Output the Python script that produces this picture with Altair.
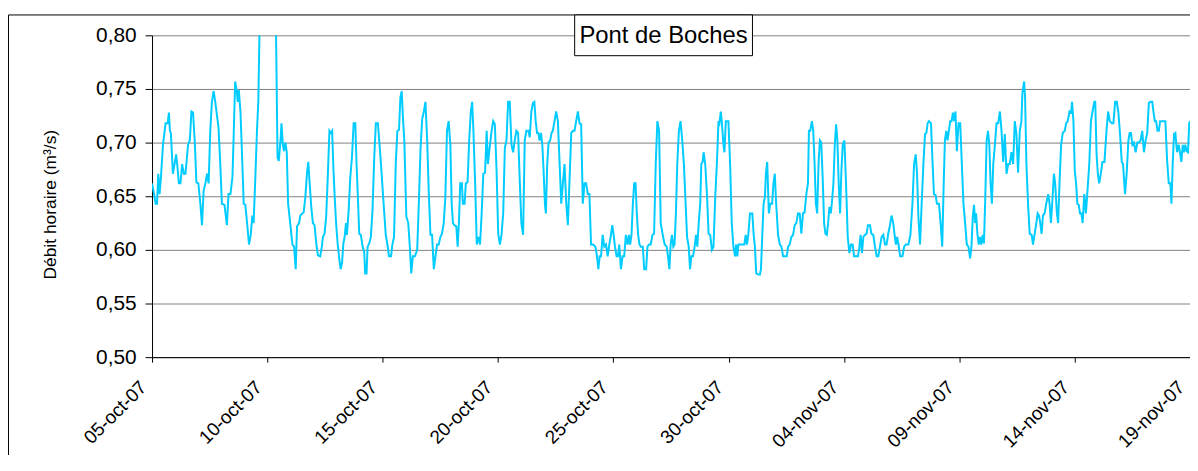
import altair as alt
import pandas as pd

# Hours since 05-oct-2007 00:00 and hourly discharge (m3/s)
hours = [
    0, 2.1, 3.8, 5.2, 6.5, 7.9, 9.3, 11.4, 14.1, 16.2, 17.6, 18.6, 19.6, 21.7, 23.8, 25.1, 26.5, 27.9, 29.6, 31.3,
    33.1, 34.8, 37.5, 39.3, 41.0, 42.7, 44.4, 46.2, 48.2, 50.3, 52.0, 53.7, 55.5, 57.2, 58.9, 60.6, 62.3, 64.1, 65.8,
    69.2, 71.0, 72.7, 75.4, 77.9, 79.6, 81.6, 83.7, 85.1, 86.5, 88.2, 89.2, 90.3, 92.0, 93.4, 95.4, 97.1, 99.2, 100.9,
    102.7, 104.4, 105.7, 107.1, 109.2, 110.6, 112.5, 128.5, 130.6, 131.9, 133.7, 134.7, 136.1, 137.4, 138.8, 140.2, 141.6,
    144.0, 146.1, 147.8, 149.5, 150.9, 153.0, 154.3, 156.4, 157.8, 159.5, 161.2, 162.6, 164.0, 165.7, 167.4, 169.1,
    170.9, 172.6, 175.0, 176.7, 177.8, 179.5, 181.2, 182.6, 184.6, 186.0, 187.4, 188.8, 190.1, 191.5, 193.2, 194.9,
    196.3, 197.7, 199.1, 200.4, 201.8, 202.8, 204.6, 206.3, 208.0, 209.8, 211.5, 212.8, 214.2, 215.6, 217.3, 219.1,
    220.8, 221.8, 223.2, 224.3, 226.0, 227.7, 229.4, 231.2, 232.9, 235.0, 237.0, 239.1, 241.2, 243.2, 244.9, 246.6,
    248.7, 250.1, 251.8, 253.6, 255.3, 257.0, 258.4, 259.8, 261.1, 262.5, 264.6, 266.6, 268.3, 269.7, 271.4, 273.5,
    275.9, 277.6, 279.4, 281.1, 282.8, 284.5, 286.3, 288.0, 289.7, 291.4, 293.2, 294.9, 296.6, 298.3, 300.0, 301.7,
    303.5, 305.2, 306.9, 308.6, 310.4, 311.8, 313.1, 314.5, 316.6, 318.0, 319.3, 320.7, 322.4, 323.4, 325.2, 326.5,
    328.3, 330.0, 331.7, 333.1, 334.4, 336.2, 337.9, 339.9, 341.3, 343.0, 344.7, 346.5, 348.2, 349.5, 350.9, 353.3,
    355.0, 356.7, 358.5, 360.2, 361.9, 363.6, 365.4, 367.1, 368.8, 370.5, 372.2, 374.0, 375.7, 377.4, 379.1, 380.9,
    382.6, 384.3, 386.1, 387.8, 389.5, 391.6, 393.0, 394.7, 396.4, 397.8, 399.2, 400.6, 401.9, 403.3, 404.7, 406.1,
    407.4, 408.8, 409.8, 411.2, 412.6, 414.3, 415.7, 417.0, 418.8, 420.5,
    422.3, 424.1, 425.8, 427.5, 429.2, 431.0, 432.7, 434.4, 436.2, 437.9, 439.6, 441.3, 443.1, 444.8, 446.5, 448.2,
    450.0, 451.7, 453.4, 455.1, 456.8, 458.9, 461.3, 463.0, 464.4, 465.8, 467.2, 468.9, 470.6, 472.4, 474.1, 475.8,
    477.5, 478.9, 480.3, 481.7, 483.4, 484.8, 486.2, 487.9, 489.6, 491.3, 493.0, 494.8, 496.2, 497.5, 498.9, 500.3,
    501.7, 503.1, 504.4, 505.8, 507.2, 508.6, 510.7, 512.1, 514.1, 515.5, 517.2, 518.9, 520.7, 522.4, 524.1, 525.8,
    527.6, 529.3, 531.4, 533.4, 535.5, 536.9, 538.3, 539.6, 541.0, 542.4, 543.7, 545.1, 546.5, 548.2, 549.9, 551.7,
    553.4,
    556.7, 558.4, 559.8, 561.2, 562.9, 564.6, 566.0, 567.4, 568.8, 570.4, 571.5, 572.9, 573.9, 575.6, 577.4, 579.1,
    580.8, 582.5, 584.2, 586.0, 587.7, 589.4, 590.4, 591.8, 592.8, 594.6, 595.6, 597.0, 599.7, 601.5, 603.2, 604.9,
    606.6, 607.7, 609.0, 610.1, 611.8, 614.2, 616.3, 617.7, 619.0, 620.4, 622.2, 624.6, 626.0, 627.3, 628.7, 630.8,
    632.5, 633.6, 634.9, 636.3, 637.7, 638.7, 640.1, 641.8, 643.2, 645.2, 646.6, 648.0, 649.4, 651.4, 653.2, 654.9,
    656.6, 658.3, 660.4, 661.8, 663.5, 665.2, 667.0, 668.7, 670.4, 672.1, 673.9, 675.6, 677.3, 679.0, 680.8, 682.5,
    683.5, 684.9, 686.6, 688.0, 689.4, 690.7, 692.1, 693.5, 694.9, 696.3,
    697.9, 699.3, 700.7, 702.1, 703.5, 704.8, 706.2, 707.3, 709.0, 710.4, 711.8, 713.1, 714.5, 715.9, 717.3, 718.7,
    720.4, 722.1, 723.9, 725.6, 727.3, 729.0, 730.4, 732.5, 734.6, 736.0, 737.3, 738.7, 740.1, 741.8, 743.5, 744.9,
    747.0, 748.5, 750.5, 752.2, 754.0, 755.7, 757.4, 759.1, 760.9, 762.6, 764.3, 766.0, 767.8, 769.5, 771.2, 772.9,
    774.0, 775.3, 776.7, 778.4, 780.8, 782.6, 784.3, 787.0, 789.1, 791.2, 792.9, 794.6, 796.0, 797.4, 799.1, 800.8,
    802.6, 804.3, 805.7, 807.0, 808.4, 810.5, 811.9, 813.6, 815.3, 816.7, 818.8, 820.5, 822.2, 823.9, 825.0, 826.4,
    827.7, 829.1, 830.5, 831.9, 833.3, 834.6, 836.0,
    837.4, 839.2, 840.9, 842.6, 844.3, 846.0, 847.8, 849.5, 851.2, 852.6, 854.0, 855.3, 856.4, 857.4, 858.8, 860.2,
    861.5, 862.9, 864.3, 865.6, 867.0, 868.4, 869.8, 871.2, 872.5, 873.9, 875.3, 877.0, 878.7, 880.4, 882.2, 883.9,
    885.6, 887.3, 889.1, 890.8, 892.5, 894.2, 896.0, 897.7, 899.4, 901.1, 902.9, 904.6, 905.6, 907.4, 908.4, 909.8,
    911.5, 913.2, 915.3, 916.6, 918.4, 920.1, 921.5, 922.9, 924.2, 925.6, 927.0, 928.7, 930.4, 932.5, 933.9, 935.3,
    936.6, 938.4, 939.7, 941.5, 942.8, 944.2, 945.9, 947.6, 949.7, 951.1, 952.8, 954.6, 956.3, 957.3, 958.7, 960.1,
    961.5, 962.8, 964.2, 965.6, 967.0,
    968.3, 970.0, 971.7, 973.1, 975.2, 976.9, 978.6, 980.4, 981.4, 982.8, 984.1, 985.5, 987.2, 988.9, 991.0, 993.1,
    994.8, 996.5, 998.6, 1000.3, 1002.1, 1003.8, 1005.5, 1007.2, 1009.0, 1010.3, 1012.4, 1014.1, 1015.9, 1017.2,
    1018.6, 1020.0, 1021.7, 1023.4, 1025.2, 1026.9, 1028.6, 1030.3, 1032.1, 1033.8, 1035.5, 1037.2, 1039.0, 1040.7,
    1042.1, 1043.4, 1044.8, 1046.2, 1047.6, 1048.9, 1051.0, 1053.1, 1054.4, 1056.2, 1057.9, 1059.6, 1060.7, 1062.0,
    1063.4, 1064.8, 1066.5, 1068.2, 1069.9, 1071.0, 1072.4, 1073.7, 1075.1, 1076.5, 1077.9, 1079.2, 1079.9,
]

flow = [
    0.662, 0.652, 0.643, 0.643, 0.671, 0.652, 0.668, 0.698, 0.718, 0.718, 0.728, 0.711, 0.709, 0.671, 0.682, 0.689, 0.677, 0.662, 0.662, 0.680,
    0.671, 0.671, 0.698, 0.702, 0.729, 0.728, 0.702, 0.663, 0.662, 0.643, 0.623, 0.655, 0.662, 0.671, 0.662, 0.711, 0.738, 0.748, 0.738,
    0.714, 0.680, 0.643, 0.642, 0.623, 0.652, 0.652, 0.668, 0.711, 0.757, 0.748, 0.738, 0.749, 0.729, 0.695, 0.643, 0.642, 0.622, 0.605,
    0.614, 0.632, 0.625, 0.658, 0.711, 0.738, 0.840, 0.840, 0.686, 0.683, 0.702, 0.718, 0.698, 0.692, 0.700, 0.691, 0.643,
    0.623, 0.605, 0.603, 0.582, 0.622, 0.625, 0.632, 0.634, 0.635, 0.649, 0.671, 0.682, 0.662, 0.640, 0.625, 0.623,
    0.606, 0.595, 0.594, 0.603, 0.612, 0.615, 0.631, 0.662, 0.711, 0.709, 0.711, 0.674, 0.649, 0.625, 0.605, 0.591,
    0.582, 0.588, 0.606, 0.612, 0.625, 0.614, 0.637, 0.668, 0.686, 0.718, 0.718, 0.680, 0.649, 0.615, 0.614, 0.603,
    0.598, 0.578, 0.578, 0.603, 0.606, 0.612, 0.637, 0.686, 0.718, 0.718, 0.695, 0.668, 0.640, 0.614, 0.605, 0.594,
    0.594, 0.605, 0.612, 0.680, 0.711, 0.712, 0.742, 0.748, 0.723, 0.702, 0.631, 0.625, 0.602, 0.578, 0.594, 0.594,
    0.600, 0.643, 0.695, 0.722, 0.729, 0.738, 0.702, 0.652, 0.614, 0.614, 0.582, 0.594, 0.605, 0.605, 0.612, 0.615,
    0.625, 0.649, 0.711, 0.720, 0.698, 0.643, 0.625, 0.623, 0.622, 0.603, 0.625, 0.662, 0.662, 0.643, 0.643, 0.662,
    0.663, 0.702, 0.729, 0.738, 0.711, 0.662, 0.605, 0.612, 0.605, 0.634, 0.671, 0.672, 0.711, 0.680, 0.692, 0.711,
    0.720, 0.717, 0.674, 0.615, 0.605, 0.614, 0.634, 0.695, 0.702, 0.738, 0.738, 0.698, 0.691, 0.702, 0.711, 0.709,
    0.665, 0.625, 0.614, 0.702, 0.711, 0.711, 0.705, 0.729, 0.737, 0.738, 0.720, 0.709, 0.709, 0.702, 0.709, 0.698,
    0.674, 0.643, 0.634, 0.680, 0.700, 0.702, 0.709, 0.711, 0.720, 0.729,
    0.720, 0.680, 0.643, 0.662, 0.680, 0.643, 0.623, 0.665, 0.709, 0.711, 0.711, 0.720, 0.729, 0.718, 0.717, 0.643,
    0.662, 0.662, 0.652, 0.652, 0.605, 0.605, 0.603, 0.594, 0.582, 0.594, 0.594, 0.614, 0.603, 0.605, 0.594, 0.605,
    0.614, 0.623, 0.614, 0.603, 0.594, 0.594, 0.605, 0.582, 0.594, 0.594, 0.614, 0.605, 0.614, 0.605, 0.614, 0.643,
    0.662, 0.662, 0.634, 0.614, 0.605, 0.603, 0.603, 0.582, 0.582, 0.603, 0.605, 0.605, 0.614, 0.615, 0.680, 0.720,
    0.711, 0.625, 0.614, 0.605, 0.603, 0.594, 0.582, 0.605, 0.614, 0.603, 0.605, 0.634, 0.680, 0.711, 0.720, 0.702,
    0.680,
    0.612, 0.603, 0.582, 0.594, 0.594, 0.603, 0.614, 0.603, 0.625, 0.643, 0.680, 0.682, 0.691, 0.680, 0.652, 0.615,
    0.614, 0.600, 0.603, 0.649, 0.680, 0.720, 0.718, 0.729, 0.720, 0.698, 0.691, 0.720, 0.720, 0.680, 0.625, 0.603,
    0.594, 0.605, 0.594, 0.605, 0.605, 0.605, 0.605, 0.614, 0.605, 0.614, 0.634, 0.634, 0.614, 0.603, 0.578, 0.577,
    0.577, 0.582, 0.612, 0.643, 0.649, 0.671, 0.682, 0.634, 0.643, 0.643, 0.662, 0.671, 0.643, 0.614, 0.605, 0.603,
    0.594, 0.594, 0.594, 0.603, 0.605, 0.612, 0.614, 0.623, 0.625, 0.634, 0.634, 0.615, 0.634, 0.635, 0.652, 0.662,
    0.711, 0.711, 0.720, 0.711, 0.680, 0.643, 0.634, 0.680, 0.702, 0.700,
    0.665, 0.625, 0.615, 0.614, 0.625, 0.640, 0.634, 0.643, 0.662, 0.698, 0.717, 0.702, 0.662, 0.634, 0.674, 0.698,
    0.702, 0.662, 0.612, 0.597, 0.605, 0.605, 0.594, 0.594, 0.594, 0.603, 0.614, 0.597, 0.612, 0.614, 0.615, 0.623,
    0.623, 0.615, 0.614, 0.603, 0.594, 0.594, 0.603, 0.612, 0.614, 0.605, 0.605, 0.615, 0.623, 0.632, 0.625, 0.612,
    0.605, 0.612, 0.605, 0.594, 0.594, 0.603, 0.605, 0.605, 0.614, 0.643, 0.680, 0.689, 0.671, 0.631, 0.605, 0.643,
    0.680, 0.708, 0.709, 0.718, 0.720, 0.718, 0.686, 0.652, 0.651, 0.643, 0.643, 0.625, 0.603, 0.668, 0.702, 0.711,
    0.702, 0.711, 0.720, 0.720, 0.728, 0.720, 0.729,
    0.692, 0.718, 0.718, 0.680, 0.643, 0.625, 0.605, 0.603, 0.592, 0.603, 0.631, 0.642, 0.625, 0.634, 0.615, 0.605,
    0.612, 0.605, 0.614, 0.606, 0.649, 0.702, 0.711, 0.698, 0.662, 0.643, 0.680, 0.698, 0.718, 0.718, 0.729, 0.711,
    0.682, 0.708, 0.671, 0.680, 0.680, 0.691, 0.680, 0.720, 0.708, 0.672, 0.711, 0.720, 0.746, 0.757, 0.742, 0.680,
    0.643, 0.615, 0.614, 0.605, 0.615, 0.625, 0.634, 0.632, 0.625, 0.615, 0.632, 0.634, 0.643, 0.652, 0.643, 0.625,
    0.643, 0.671, 0.662, 0.634, 0.625, 0.662, 0.698, 0.709, 0.711, 0.718, 0.720, 0.729, 0.728, 0.738, 0.720, 0.674,
    0.662, 0.643, 0.642, 0.634, 0.634,
    0.625, 0.652, 0.634, 0.652, 0.680, 0.720, 0.729, 0.738, 0.738, 0.689, 0.671, 0.662, 0.671, 0.682, 0.682, 0.711,
    0.729, 0.720, 0.718, 0.718, 0.738, 0.738, 0.728, 0.708, 0.682, 0.680, 0.652, 0.671, 0.702, 0.709,
    0.709, 0.698, 0.700, 0.691, 0.700, 0.700, 0.702, 0.711, 0.691, 0.702, 0.709, 0.737, 0.738, 0.738,
    0.728, 0.720, 0.720, 0.711, 0.711, 0.720, 0.720, 0.720, 0.720, 0.683, 0.662, 0.662, 0.643, 0.680,
    0.708, 0.709, 0.691, 0.698, 0.689, 0.682, 0.698, 0.691, 0.698, 0.692, 0.691, 0.718, 0.720,
]

tick_dates = [(2007, 10, 5), (2007, 10, 10), (2007, 10, 15), (2007, 10, 20), (2007, 10, 25),
              (2007, 10, 30), (2007, 11, 4), (2007, 11, 9), (2007, 11, 14), (2007, 11, 19)]
y_ticks = [0.50, 0.55, 0.60, 0.65, 0.70, 0.75, 0.80]
chart_title = ["Pont de Boches"]
y_title = "Débit horaire (m³/s)"

df = pd.DataFrame({
    "t": pd.Timestamp("2007-10-05") + pd.to_timedelta(hours, unit="h"),
    "q": flow,
})
title_df = pd.DataFrame({"label": chart_title})

FONT = "Liberation Sans"
W, H = 1045, 324

x_vals = [alt.DateTime(year=y, month=m, date=d) for (y, m, d) in tick_dates]

line = alt.Chart(df).mark_line(color="#00CCFF", strokeWidth=2, clip=True).encode(
    x=alt.X(
        "t:T",
        scale=alt.Scale(domain=[x_vals[0], x_vals[-1]]),
        axis=alt.Axis(
            values=x_vals,
            labelExpr="lower(timeFormat(datum.value, '%d-%b-%y'))",
            labelAngle=-45,
            labelAlign="right",
            labelBaseline="middle",
            labelFont=FONT,
            labelFontSize=19,
            labelColor="black",
            labelPadding=22,
            labelOffset=-9,
            labelFlush=False,
            labelOverlap=False,
            tickColor="black",
            tickSize=5,
            domainColor="black",
            grid=False,
            title=None,
        ),
    ),
    y=alt.Y(
        "q:Q",
        scale=alt.Scale(domain=[0.5, 0.8], nice=False, zero=False),
        axis=alt.Axis(
            values=y_ticks,
            labelExpr="replace(format(datum.value, '.2f'), '.', ',')",
            labelFont=FONT,
            labelFontSize=21,
            labelColor="black",
            labelPadding=9,
            tickColor="black",
            tickSize=7,
            domainColor="black",
            grid=True,
            gridColor="#808080",
            gridWidth=1,
            title=y_title,
            titleFont=FONT,
            titleFontSize=17.5,
            titleFontWeight="normal",
            titleColor="black",
            titleX=-93,
            titleY=170,
            titleBaseline="bottom",
            titleAlign="center",
        ),
    ),
)

frame = alt.Chart(title_df).mark_rect(fillOpacity=0, stroke="black", strokeWidth=1).encode(
    x=alt.value(-144.5), x2=alt.value(1200), y=alt.value(-20.5), y2=alt.value(600)
)
box = alt.Chart(title_df).mark_rect(fill="white", stroke="black", strokeWidth=1).encode(
    x=alt.value(425.5), x2=alt.value(604.5), y=alt.value(-20.5), y2=alt.value(20.5)
)
txt = alt.Chart(title_df).mark_text(
    font=FONT, fontSize=24, align="center", baseline="alphabetic", color="black"
).encode(text="label:N", x=alt.value(515), y=alt.value(8))

chart = (
    alt.layer(frame, line, box, txt)
    .properties(
        width=W,
        height=H,
        autosize=alt.AutoSizeParams(type="none"),
        padding={"left": 145, "top": 26, "right": 0, "bottom": 97},
        background="white",
    )
    .configure_view(strokeWidth=0)
)

chart.save("out.html", embed_options={"renderer": "svg", "actions": False})
